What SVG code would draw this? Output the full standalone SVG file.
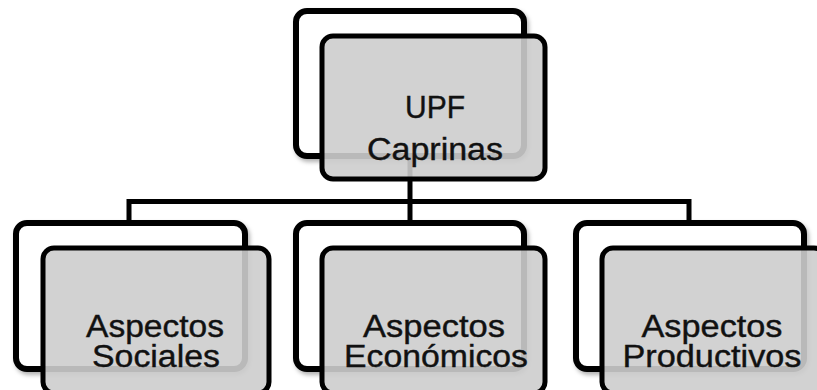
<svg xmlns="http://www.w3.org/2000/svg" width="817" height="390" viewBox="0 0 817 390">
  <defs>
    <filter id="sh" x="-10%" y="-10%" width="125%" height="130%">
      <feDropShadow dx="2" dy="3" stdDeviation="2" flood-color="#000" flood-opacity="0.3"/>
    </filter>
    <style>
      .back { fill: #ffffff; stroke: #000; stroke-width: 6; filter: url(#sh); }
      .front { fill: #cdcdcd; fill-opacity: 0.9; stroke: #000; stroke-width: 5; }
      .conn { fill: none; stroke: #000; stroke-width: 5; }
      .lbl { font-family: "Liberation Sans", Arial, sans-serif; font-size: 31px; fill: #111; stroke: #111; stroke-width: 0.4; text-anchor: middle; }
    </style>
  </defs>
  <rect width="817" height="390" fill="#fff"/>
  <g id="connectors">
    <path class="conn" d="M410 150 V201.5"/>
    <path class="conn" d="M129 222 V201.5 H689 V222"/>
    <path class="conn" d="M410 201.5 V222"/>
  </g>
  <g id="node-upf">
    <rect class="back" x="296" y="11" width="228" height="145" rx="11"/>
    <rect class="front" x="322" y="36" width="223" height="143" rx="11"/>
    <text class="lbl" x="435" y="118" textLength="60" lengthAdjust="spacingAndGlyphs">UPF</text>
    <text class="lbl" x="435" y="160" textLength="136" lengthAdjust="spacingAndGlyphs">Caprinas</text>
  </g>
  <g id="node-sociales">
    <rect class="back" x="16" y="223" width="229" height="146" rx="11"/>
    <rect class="front" x="43" y="248" width="226" height="145" rx="11"/>
    <text class="lbl" x="155" y="337" textLength="138" lengthAdjust="spacingAndGlyphs">Aspectos</text>
    <text class="lbl" x="156" y="367" textLength="128" lengthAdjust="spacingAndGlyphs">Sociales</text>
  </g>
  <g id="node-economicos">
    <rect class="back" x="296" y="223" width="228" height="146" rx="11"/>
    <rect class="front" x="322" y="248" width="223" height="145" rx="11"/>
    <text class="lbl" x="434" y="337" textLength="142" lengthAdjust="spacingAndGlyphs">Aspectos</text>
    <text class="lbl" x="436" y="367" textLength="184" lengthAdjust="spacingAndGlyphs">Económicos</text>
  </g>
  <g id="node-productivos">
    <rect class="back" x="576" y="223" width="228" height="146" rx="11"/>
    <rect class="front" x="602" y="248" width="223" height="145" rx="11"/>
    <text class="lbl" x="712" y="337" textLength="141" lengthAdjust="spacingAndGlyphs">Aspectos</text>
    <text class="lbl" x="712" y="367" textLength="179" lengthAdjust="spacingAndGlyphs">Productivos</text>
  </g>
</svg>
